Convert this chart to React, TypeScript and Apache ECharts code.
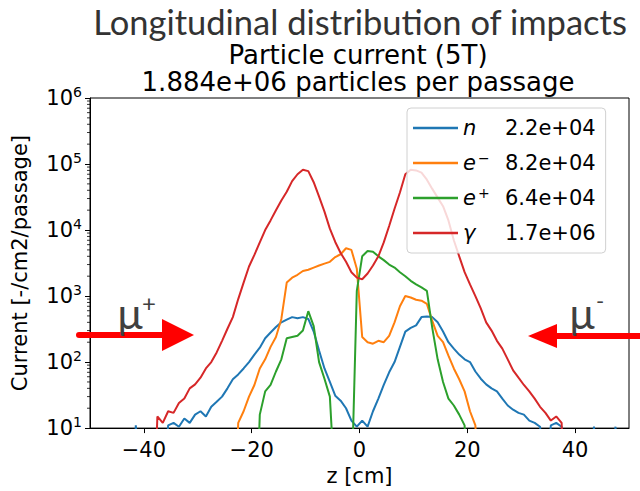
import React, { useEffect, useRef } from 'react';
import * as echarts from 'echarts';

// ---- data (1 cm bins, value = bin [z, z+1]) ----
const xTicks = [-40, -20, 0, 20, 40];
const yMinorFactors = [2, 3, 4, 5, 6, 7, 8, 9];

const neutronStart = -42;
const neutronVals = [
  11, 1, 1, 1, 1, 1, 11, 12, 10.5, 14, 12, 16, 18, 15, 21, 25, 30, 40, 55, 65,
  80, 100, 130, 165, 230, 280, 340, 400, 440, 480, 460, 480, 450, 290, 150, 80, 50, 31, 26, 20,
  13, 10.5, 13, 10.5, 18, 28, 45, 70, 100, 170, 290, 330, 360, 480, 490, 480, 400, 290, 200, 160,
  130, 110, 100, 72, 56, 46, 40, 36, 28, 22, 19, 17, 16, 13, 12, 10.5, 1, 11, 12, 10.5,
  1, 1, 1, 1, 1, 10.5, 1, 1, 1, 10.5,
];

const electronStart = -23;
const electronVals = [
  12, 18, 30, 45, 80, 110, 170, 240, 450,
  1600, 1900, 2100, 2400, 2500, 2700, 2900, 3100, 3300, 3900, 4300, 5300, 5000, 2600,
  240, 200, 190, 210, 200, 250, 400, 700, 1000, 950, 880, 850, 760, 420, 250, 200, 125, 80, 55, 36, 18, 11,
];

const positronStart = -19;
const positronVals = [
  16, 36, 45, 72, 110, 230, 240, 250, 300, 590, 350, 100, 56, 30, 1, 1, 1, 1, 1200,
  4000, 4800, 4700, 4000, 3500, 3000, 2700, 2300, 2000, 1700, 1500, 1350, 1200, 330, 110, 50, 28, 22, 16, 11,
];

const gammaStart = -38;
const gammaVals = [
  15, 12, 18, 17, 24, 28, 40, 46, 58, 80, 100, 140, 210, 320, 480, 900, 1600, 2800, 4200, 6500,
  10000, 14000, 20000, 28000, 38000, 55000, 70000, 82000, 78000, 53000, 32000, 19000, 10500, 6600, 4500, 3300, 2300, 1900, 1800, 2200,
  2900, 4000, 6500, 11500, 21000, 37000, 70000, 82000, 80000, 74000, 58000, 42000, 31000, 23000, 14000, 7000, 4000, 2300, 1500, 1000,
  650, 400, 300, 210, 160, 110, 75, 58, 45, 36, 28, 21, 17, 13, 15, 12,
];

const seriesNames = ['n', 'e-', 'e+', 'gamma'];
const seriesTotals = ['2.2e+04', '8.2e+04', '6.4e+04', '1.7e+06'];
const seriesColors = ['#1f77b4', '#ff7f0e', '#2ca02c', '#d62728'];
const seriesStarts = [neutronStart, electronStart, positronStart, gammaStart];
const seriesValues = [neutronVals, electronVals, positronVals, gammaVals];

const titleText = 'Longitudinal distribution of impacts';
const subTitle1 = 'Particle current (5T)';
const subTitle2 = '1.884e+06 particles per passage';

const FLOOR = 1;
// points at bin centres; the trace drops below the axis outside the filled range
function toPoints(start: number, vals: number[]) {
  const pts: number[][] = [[start, FLOOR]];
  vals.forEach((v, i) => pts.push([start + i + 0.5, v]));
  pts.push([start + vals.length, FLOOR]);
  return pts;
}

const legendLabels: Record<string, string> = {
  n: '{it|n}{v|' + seriesTotals[0] + '}',
  'e-': '{ite|e}{sup|\u2212}{v|' + seriesTotals[1] + '}',
  'e+': '{ite|e}{sup|+}{v|' + seriesTotals[2] + '}',
  gamma: '{it|\u03b3}{v|' + seriesTotals[3] + '}',
};

const FONT = 'DejaVu Sans';
const LEG = 21;

export default function App() {
  const ref = useRef<HTMLDivElement>(null);
  useEffect(() => {
    if (!ref.current) return;
    const chart = echarts.init(ref.current, undefined, { renderer: 'svg' });
    const option: any = {
      animation: false,
      backgroundColor: '#fff',
      textStyle: { fontFamily: FONT },
      grid: {
        left: 90,
        right: 11,
        top: 98,
        bottom: 61,
        show: true,
        borderColor: '#000',
        borderWidth: 1,
        backgroundColor: 'transparent',
      },
      legend: {
        orient: 'vertical',
        left: 407,
        top: 108,
        data: seriesNames,
        icon: 'rect',
        backgroundColor: 'rgba(255,255,255,0.82)',
        borderColor: '#d0d0d0',
        borderWidth: 1,
        borderRadius: 4,
        padding: [8, 10, 8, 6],
        itemGap: 11,
        itemWidth: 45,
        itemHeight: 2.5,
        itemTextGap: 15,
        selectedMode: false,
        formatter: (name: string) => legendLabels[name],
        textStyle: {
          fontFamily: FONT,
          fontSize: LEG,
          color: '#000',
          lineHeight: 24,
          rich: {
            it: { fontFamily: FONT, fontStyle: 'italic', fontSize: LEG, width: 42, lineHeight: 24 },
            ite: { fontFamily: FONT, fontStyle: 'italic', fontSize: LEG, width: 15, lineHeight: 24 },
            sup: { fontFamily: FONT, fontSize: 14, width: 27, verticalAlign: 'top', lineHeight: 14 },
            v: { fontFamily: FONT, fontSize: LEG, color: '#000', lineHeight: 24 },
          },
        },
      },
      xAxis: {
        type: 'value',
        min: -50,
        max: 50,
        name: 'z [cm]',
        nameLocation: 'middle',
        nameGap: 36,
        nameTextStyle: { fontFamily: FONT, fontSize: 21, color: '#000' },
        axisLine: { onZero: false, lineStyle: { color: '#000', width: 1 } },
        axisTick: { show: true, length: 5, lineStyle: { color: '#000' }, customValues: xTicks },
        axisLabel: {
          customValues: xTicks,
          fontFamily: FONT,
          fontSize: 21,
          color: '#000',
          margin: 11,
          formatter: (v: number) => (v < 0 ? '\u2212' + Math.abs(v) : String(v)),
        },
        splitLine: { show: false },
      },
      yAxis: {
        type: 'log',
        logBase: 10,
        min: 10,
        max: 1000000,
        name: 'Current [-/cm2/passage]',
        nameLocation: 'middle',
        nameGap: 60,
        nameTextStyle: { fontFamily: FONT, fontSize: 21, color: '#000' },
        axisLine: { show: true, onZero: false, lineStyle: { color: '#000', width: 1 } },
        axisTick: { show: true, length: 5, lineStyle: { color: '#000' } },
        axisLabel: {
          fontFamily: FONT,
          color: '#000',
          margin: 8,
          formatter: (v: number) => '{b|10}{s|' + Math.round(Math.log10(v)) + '}',
          rich: {
            b: { fontFamily: FONT, fontSize: 21, color: '#000', lineHeight: 26 },
            s: { fontFamily: FONT, fontSize: 14, color: '#000', verticalAlign: 'top', lineHeight: 16 },
          },
        },
        splitLine: { show: false },
        minorTick: { show: false },
      },
      series: seriesNames.map((name, i) => ({
        name,
        type: 'line',
        symbol: 'none',
        clip: true,
        color: seriesColors[i],
        lineStyle: { color: seriesColors[i], width: 2 },
        data: toPoints(seriesStarts[i], seriesValues[i]),
      })),
    };
    chart.setOption(option);

    // minor log ticks and annotations, placed through the axes' scales
    const x0 = chart.convertToPixel({ xAxisIndex: 0 }, -50) as number;
    const graphics: any[] = [];
    for (let d = 1; d < 6; d++) {
      yMinorFactors.forEach((k) => {
        const y = chart.convertToPixel({ yAxisIndex: 0 }, k * Math.pow(10, d)) as number;
        graphics.push({
          type: 'line',
          shape: { x1: x0 - 3, y1: y, x2: x0, y2: y },
          style: { stroke: '#000', lineWidth: 0.8 },
          silent: true,
        });
      });
    }
    graphics.push(
      {
        type: 'text', x: 360, y: 21,
        style: { text: titleText, font: '34.5px Lato', fill: '#333', align: 'center', verticalAlign: 'middle' },
      },
      {
        type: 'text', x: 358, y: 55,
        style: { text: subTitle1, font: '26px DejaVu Sans', fill: '#000', align: 'center', verticalAlign: 'middle' },
      },
      {
        type: 'text', x: 358, y: 82,
        style: { text: subTitle2, font: '26px DejaVu Sans', fill: '#000', align: 'center', verticalAlign: 'middle' },
      },
      // left arrow (mu+)
      {
        type: 'line', shape: { x1: 79, y1: 335, x2: 166, y2: 335 },
        style: { stroke: '#ff0000', lineWidth: 6, lineCap: 'round' }, z: 100,
      },
      {
        type: 'polygon', shape: { points: [[162, 319], [194, 335], [162, 351]] },
        style: { fill: '#ff0000' }, z: 100,
      },
      {
        type: 'text', x: 130, y: 313,
        style: { text: '\u03bc', font: '42px Lato', fill: '#404040', align: 'center', verticalAlign: 'middle' }, z: 100,
      },
      {
        type: 'text', x: 149, y: 302,
        style: { text: '+', font: '24px Lato', fill: '#404040', align: 'center', verticalAlign: 'middle' }, z: 100,
      },
      // right arrow (mu-)
      {
        type: 'line', shape: { x1: 553, y1: 336, x2: 645, y2: 336 },
        style: { stroke: '#ff0000', lineWidth: 6 }, z: 100,
      },
      {
        type: 'polygon', shape: { points: [[557, 324], [528, 336], [557, 348]] },
        style: { fill: '#ff0000' }, z: 100,
      },
      {
        type: 'text', x: 582, y: 313,
        style: { text: '\u03bc', font: '42px Lato', fill: '#404040', align: 'center', verticalAlign: 'middle' }, z: 100,
      },
      {
        type: 'text', x: 600, y: 300,
        style: { text: '-', font: '22px Lato', fill: '#404040', align: 'center', verticalAlign: 'middle' }, z: 100,
      }
    );
    chart.setOption({ graphic: graphics });
    return () => chart.dispose();
  }, []);
  return (
    <div
      ref={ref}
      style={{ position: 'fixed', left: 0, top: 0, width: 640, height: 491, background: '#fff' }}
    />
  );
}
